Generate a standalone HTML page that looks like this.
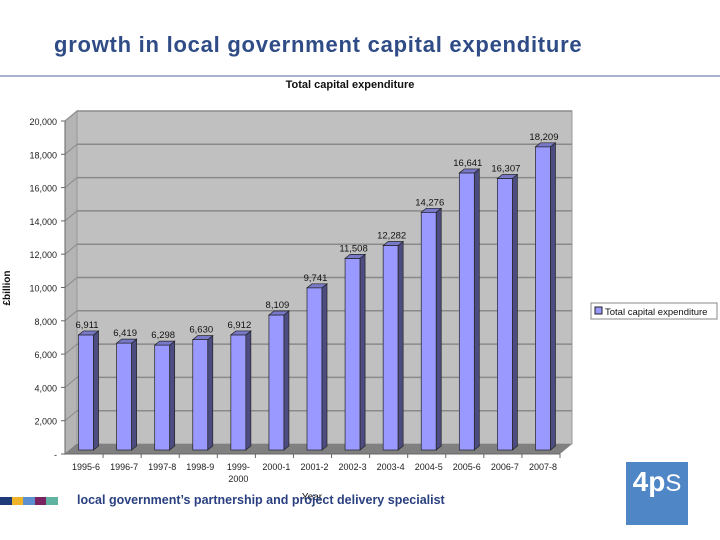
<!DOCTYPE html>
<html><head><meta charset="utf-8"><style>
body{margin:0;width:720px;height:540px;background:#fff;overflow:hidden;font-family:"Liberation Sans",sans-serif;position:relative}
</style></head><body>
<div style="position:absolute;left:54px;top:32px;font-size:22px;font-weight:bold;letter-spacing:0.75px;color:#2f4c86">growth in local government capital expenditure</div>
<div style="position:absolute;left:0;top:75px;width:720px;height:2px;background:#a9b3cf"></div>
<svg id="chart" width="720" height="540" style="position:absolute;left:0;top:0" font-family="Liberation Sans, sans-serif"></svg>
<div style="position:absolute;left:0;top:497px;height:8px;width:58px;display:flex">
<div style="flex:1;background:#1f3a78"></div><div style="flex:1;background:#f0b429"></div><div style="flex:1;background:#5b8fd0"></div><div style="flex:1;background:#7a2360"></div><div style="flex:1;background:#5fb3a0"></div></div>
<div style="position:absolute;left:77px;top:493px;font-size:12.5px;font-weight:bold;color:#2a4080">local government’s partnership and project delivery specialist</div>
<div style="position:absolute;left:626px;top:462px;width:62px;height:63px;background:#4f86c6;color:#fff;font-size:28px;font-weight:bold;text-align:center;line-height:40px">4p<span style="font-weight:normal;font-size:24px">S</span></div>
<script>
const categories=["1995-6","1996-7","1997-8","1998-9","1999-2000","2000-1","2001-2","2002-3","2003-4","2004-5","2005-6","2006-7","2007-8"];
const values=[6911,6419,6298,6630,6912,8109,9741,11508,12282,14276,16641,16307,18209];
const labels=["6,911","6,419","6,298","6,630","6,912","8,109","9,741","11,508","12,282","14,276","16,641","16,307","18,209"];
const yTicks=[0,2000,4000,6000,8000,10000,12000,14000,16000,18000,20000];
const yTickLabels=["-","2,000","4,000","6,000","8,000","10,000","12,000","14,000","16,000","18,000","20,000"];
const svg=document.getElementById('chart');const NS='http://www.w3.org/2000/svg';
function el(t,a,p){const e=document.createElementNS(NS,t);for(const k in a)e.setAttribute(k,a[k]);(p||svg).appendChild(e);return e;}
const x0=65,x1=560,dx=12,dy=10,yb=454,yt=121;
const y=v=>yb-(v/20000)*(yb-yt);
const step=(x1-x0)/categories.length;
const xc=i=>x0+step*(i+0.5)+2;
let w=el('polygon',{points:`${x0},${yb} ${x0+dx},${yb-dy} ${x0+dx},${yt-dy} ${x0},${yt}`,fill:'#b4b4b4',stroke:'#888'});
w=el('rect',{x:x0+dx,y:yt-dy,width:x1-x0,height:yb-yt,fill:'#c0c0c0',stroke:'#999'});
w=el('polygon',{points:`${x0},${yb} ${x1},${yb} ${x1+dx},${yb-dy} ${x0+dx},${yb-dy}`,fill:'#808080'});
yTicks.forEach((t,i)=>{
 if(t>0){const g=el('line',{x1:x0+dx,x2:x1+dx,y1:y(t)-dy,y2:y(t)-dy,stroke:'#8a8a8a','stroke-width':1.5});
 el('line',{x1:x0,x2:x0+dx,y1:y(t),y2:y(t)-dy,stroke:'#8a8a8a'});}
 el('line',{x1:x0-4,x2:x0,y1:y(t),y2:y(t),stroke:'#666'});
 const tx=el('text',{x:x0-8,y:y(t)+4,'text-anchor':'end','font-size':9,fill:'#222'});tx.textContent=yTickLabels[i];
 
});
el('line',{x1:x0,x2:x0,y1:yt,y2:yb,stroke:'#666'});
el('line',{x1:x0,x2:x1,y1:yb,y2:yb,stroke:'#666'});
const bw=15,sd=5,td=4;
values.forEach((v,i)=>{
 const g=el('g',{});
 const bx=xc(i)-bw/2,top=y(v)-4,bot=yb-4;
 el('rect',{x:bx,y:top,width:bw,height:bot-top,fill:'#9999ff',stroke:'#222','stroke-width':0.7},g);
 el('polygon',{points:`${bx+bw},${top} ${bx+bw+sd},${top-td} ${bx+bw+sd},${bot-td} ${bx+bw},${bot}`,fill:'#4c4c80',stroke:'#222','stroke-width':0.7},g);
 el('polygon',{points:`${bx},${top} ${bx+sd},${top-td} ${bx+bw+sd},${top-td} ${bx+bw},${top}`,fill:'#7878c8',stroke:'#222','stroke-width':0.7},g);
 const l=el('text',{x:xc(i)+1,y:top-7,'text-anchor':'middle','font-size':9.5,fill:'#111'});l.textContent=labels[i];
 
 const parts=categories[i]==="1999-2000"?["1999-","2000"]:[categories[i]];
 parts.forEach((p,k)=>{const c=el('text',{x:xc(i),y:470+k*12,'text-anchor':'middle','font-size':9,fill:'#222'});c.textContent=p;
 });
 el('line',{x1:x0+step*(i+1),x2:x0+step*(i+1),y1:yb,y2:yb+4,stroke:'#666'});
});
let t=el('text',{x:350,y:88,'text-anchor':'middle','font-size':11,'font-weight':'bold',fill:'#111'});t.textContent='Total capital expenditure';
t=el('text',{x:312,y:500,'text-anchor':'middle','font-size':10,fill:'#111'});t.textContent='Year';
t=el('text',{x:10,y:288,'text-anchor':'middle','font-size':10,'font-weight':'bold',fill:'#111',transform:'rotate(-90 10 288)'});t.textContent='£billion';
const lg=el('g',{});
el('rect',{x:591,y:303,width:126,height:16,fill:'#fff',stroke:'#888'},lg);
el('rect',{x:595,y:307,width:7,height:7,fill:'#9999ff',stroke:'#222'},lg);
t=el('text',{x:605,y:315,'font-size':9.5,fill:'#111'},lg);t.textContent='Total capital expenditure';
</script>
</body></html>
